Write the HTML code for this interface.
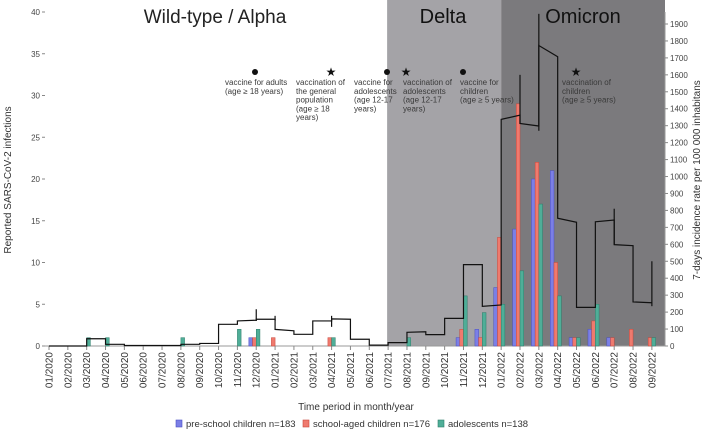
<!DOCTYPE html>
<html><head><meta charset="utf-8"><style>
html,body{margin:0;padding:0;background:#fff}
svg{display:block;font-family:"Liberation Sans",Arial,sans-serif}
</style></head><body>
<svg id="chart" width="708" height="432" viewBox="0 0 708 432"></svg>
<script>
const months=["01/2020","02/2020","03/2020","04/2020","05/2020","06/2020","07/2020","08/2020","09/2020","10/2020","11/2020","12/2020","01/2021","02/2021","03/2021","04/2021","05/2021","06/2021","07/2021","08/2021","09/2021","10/2021","11/2021","12/2021","01/2022","02/2022","03/2022","04/2022","05/2022","06/2022","07/2022","08/2022","09/2022"];
const preschool=[0,0,0,0,0,0,0,0,0,0,0,1,0,0,0,0,0,0,0,0,0,0,1,2,7,14,20,21,1,2,1,0,0];
const schoolAged=[0,0,0,0,0,0,0,0,0,0,0,1,1,0,0,1,0,0,0,0,0,0,2,1,13,29,22,10,1,3,1,2,1];
const adolescents=[0,0,1,1,0,0,0,1,0,0,2,2,0,0,0,1,0,0,0,1,0,0,6,4,5,9,17,6,1,5,0,0,1];
// incidence: value for interval [month i, month i+1]
const incidence=[0,0,43,10,3,3,3,10,15,128,148,158,98,69,148,160,40,5,20,81,67,163,480,234,1337,1313,1773,754,228,733,598,260];
const incidenceEnd=[0,0,43,10,3,3,3,10,15,128,152,158,90,69,148,158,40,5,20,84,67,163,480,242,1362,1298,1707,730,228,743,592,255];
const spikeIdx=[11,12,15,25,26,30,32];
const spikeLow=[148,150,113,1310,1270,598,235];
const spikeHigh=[217,178,178,1600,1960,810,500];
const leftTicks=[0,5,10,15,20,25,30,35,40];
const rightTicks=[0,100,200,300,400,500,600,700,800,900,1000,1100,1200,1300,1400,1500,1600,1700,1800,1900];

const NS="http://www.w3.org/2000/svg";
const svg=document.getElementById('chart');
function mk(tag,attrs,parent){const e=document.createElementNS(NS,tag);for(const k in attrs)e.setAttribute(k,attrs[k]);(parent||svg).appendChild(e);return e;}
const x=i=>49+i*18.84;
const yL=v=>346-v*8.35;
const yR=v=>346-v*322/1900;

let r=mk('rect',{x:x(18)-1,y:0,width:x(24)-x(18)+1,height:346,fill:'#a4a3a7'});

r=mk('rect',{x:x(24),y:0,width:665-x(24),height:346,fill:'#7b7a7d'});


let t=mk('text',{x:215,y:23,'font-size':19,'text-anchor':'middle',fill:'#222'});t.textContent='Wild-type / Alpha';

t=mk('text',{x:443,y:23,'font-size':20,'text-anchor':'middle',fill:'#111'});t.textContent='Delta';

t=mk('text',{x:583,y:23,'font-size':20,'text-anchor':'middle',fill:'#111'});t.textContent='Omicron';


mk('line',{x1:45,y1:346,x2:665,y2:346,stroke:'#999','stroke-width':1});
mk('line',{x1:665,y1:12,x2:665,y2:346,stroke:'#999','stroke-width':1});
leftTicks.forEach(v=>{
  mk('line',{x1:42,x2:45,y1:yL(v),y2:yL(v),stroke:'#888'});
  const e=mk('text',{x:40,y:yL(v)+3,'font-size':8,'text-anchor':'end',fill:'#444'});e.textContent=v;
  
});
rightTicks.forEach(v=>{
  mk('line',{x1:665,x2:668,y1:yR(v),y2:yR(v),stroke:'#888'});
  const e=mk('text',{x:670,y:yR(v)+3,'font-size':8,fill:'#444'});e.textContent=v;
  
});
months.forEach((m,i)=>{
  mk('line',{x1:x(i),x2:x(i),y1:346,y2:350,stroke:'#888'});
  const e=mk('text',{x:0,y:0,'font-size':10,'text-anchor':'end',fill:'#333',transform:`translate(${x(i)+3.5},352) rotate(-90)`});e.textContent=m;
  
});

const bw=3.7;
const series=[[preschool,'#7b7fe6','#4a4fc4',-2*bw],[schoolAged,'#ef7a6e','#c9463a',-bw],[adolescents,'#4fae98','#2d7d6a',0]];
series.forEach(([arr,fill,stroke,off])=>{
  arr.forEach((v,i)=>{
    if(!v)return;
    const b=mk('rect',{x:x(i)+off,y:yL(v),width:bw,height:346-yL(v),fill:fill,stroke:stroke,'stroke-width':0.5});
    
  });
});

let d=`M${x(0)},${yR(incidence[0])}`;
incidence.forEach((v,i)=>{
  d+=` L${x(i)},${yR(v)} L${x(i+1)},${yR(incidenceEnd[i])}`;
});
const p=mk('path',{d:d,fill:'none',stroke:'#111','stroke-width':1.2});

spikeIdx.forEach((k,j)=>{
  const s=mk('line',{x1:x(k),x2:x(k),y1:yR(spikeLow[j]),y2:yR(spikeHigh[j]),stroke:'#111','stroke-width':1.2});
  
});

const ann=[
 ['dot',255,225,['vaccine for adults','(age ≥ 18 years)'],'annotation-adult-vaccine'],
 ['star',331,296,['vaccination of','the general','population','(age ≥ 18','years)'],'annotation-general-vaccination'],
 ['dot',387,354,['vaccine for','adolescents','(age 12-17','years)'],'annotation-adolescent-vaccine'],
 ['star',406,403,['vaccination of','adolescents','(age 12-17','years)'],'annotation-adolescent-vaccination'],
 ['dot',463,460,['vaccine for','children','(age ≥ 5 years)'],'annotation-children-vaccine'],
 ['star',576,562,['vaccination of','children','(age ≥ 5 years)'],'annotation-children-vaccination']
];
ann.forEach(([type,mx,tx,lines,name])=>{
  const g=mk('g',{});
  
  if(type==='dot')mk('circle',{cx:mx,cy:72,r:3,fill:'#111'},g);
  else{const s=mk('text',{x:mx,y:76,'font-size':12,'text-anchor':'middle',fill:'#111'},g);s.textContent='★';}
  lines.forEach((l,k)=>{const e=mk('text',{x:tx,y:85+k*8.8,'font-size':8,fill:'#3a3a3a'},g);e.textContent=l;});
});

t=mk('text',{x:0,y:0,'font-size':10,'text-anchor':'middle',fill:'#333',transform:'translate(11,180) rotate(-90)'});t.textContent='Reported SARS-CoV-2 infections';

t=mk('text',{x:0,y:0,'font-size':10,'text-anchor':'middle',fill:'#333',transform:'translate(700,180) rotate(-90)'});t.textContent='7-days incidence rate per 100 000 inhabitans';

t=mk('text',{x:356,y:410,'font-size':10,'text-anchor':'middle',fill:'#333'});t.textContent='Time period in month/year';


const leg=[['#7b7fe6','#4a4fc4','pre-school children n=183',176],['#ef7a6e','#c9463a','school-aged children n=176',303],['#4fae98','#2d7d6a','adolescents n=138',438]];
leg.forEach(([f,s,l,lx])=>{
  const g=mk('g',{});
  
  mk('rect',{x:lx,y:420,width:6,height:7,fill:f,stroke:s,'stroke-width':0.6},g);
  const e=mk('text',{x:lx+10,y:427,'font-size':9.5,fill:'#333'},g);e.textContent=l;
});
</script>
</body></html>
